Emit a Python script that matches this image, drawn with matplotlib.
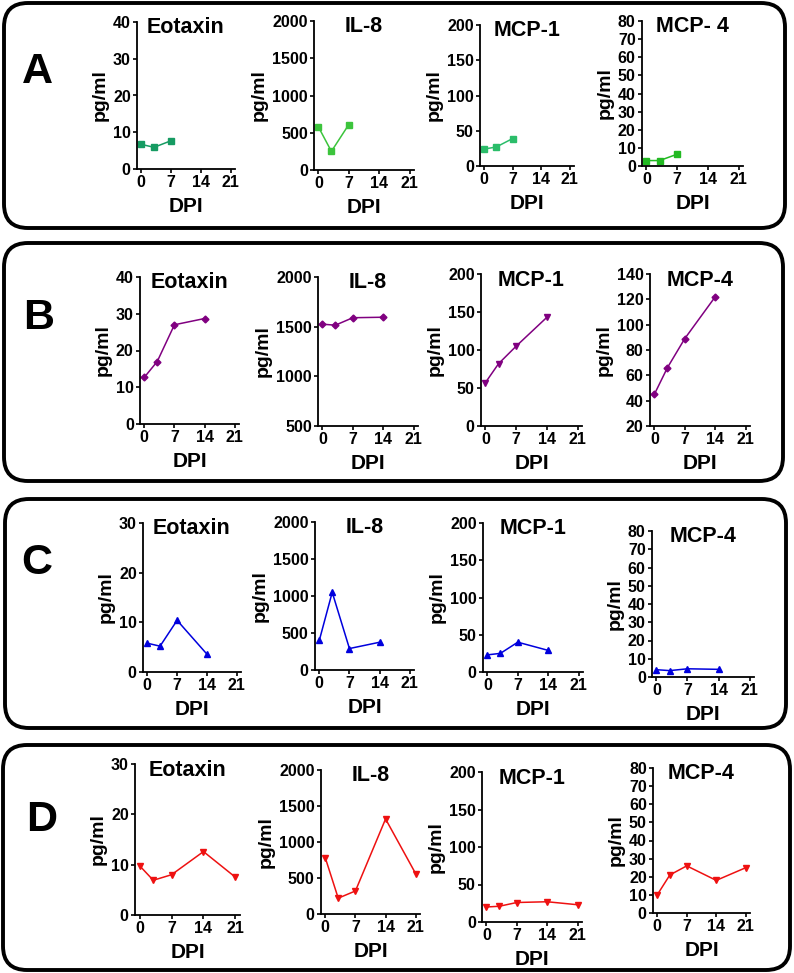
import matplotlib
matplotlib.use("Agg")
import matplotlib.pyplot as plt
from matplotlib.patches import FancyBboxPatch

plt.rcParams['font.family'] = ['Liberation Sans', 'DejaVu Sans']
plt.rcParams['font.weight'] = 'bold'
plt.rcParams['axes.labelweight'] = 'bold'

W, H = 794, 973

# ---- data (pg/ml by days post infection) ----
dpi_a = [0, 3, 7]
eotaxin_a = [6.7, 5.9, 7.7]
il8_a = [580, 250, 610]
mcp1_a = [24, 27, 39]
mcp4_a = [3, 3, 6.5]

dpi_b = [0, 3, 7, 14]
eotaxin_b = [12.7, 17, 27, 28.7]
il8_b = [1525, 1515, 1590, 1595]
mcp1_b = [57, 82, 105, 143]
mcp4_b = [45, 66, 89, 122]

dpi_c = [0, 3, 7, 14]
eotaxin_c = [5.8, 5.2, 10.4, 3.6]
il8_c = [400, 1050, 290, 375]
mcp1_c = [23, 25, 40, 29]
mcp4_c = [4, 3.5, 4.5, 4.2]

dpi_d = [0, 3, 7, 14, 21]
eotaxin_d = [9.8, 6.9, 8.0, 12.6, 7.5]
il8_d = [780, 220, 320, 1320, 560]
mcp1_d = [20, 21, 26, 27, 23]
mcp4_d = [10, 21, 26, 18, 25]

x_ticks = [0, 7, 14, 21]

# (letter, letter pos, box, x values, color, marker, panels)
# panel: (title, y values, yticks, axes px [left, right, top, bottom], colour override)
rows = [
    ("A", (37, 72), (4, 3, 785, 228), dpi_a, None, 's', [
        ("Eotaxin", eotaxin_a, range(0, 41, 10), (137, 235, 22, 169), "#169b62"),
        ("IL-8", il8_a, range(0, 2001, 500), (314, 414, 21, 170), "#3cc43c"),
        ("MCP-1", mcp1_a, range(0, 201, 50), (480, 574, 25, 166), "#2bbd6a"),
        ("MCP- 4", mcp4_a, range(0, 81, 10), (642, 743, 21, 166), "#22b922"),
    ]),
    ("B", (39, 318), (4, 243, 783, 481), dpi_b, "#800080", 'D', [
        ("Eotaxin", eotaxin_b, range(0, 41, 10), (140, 239, 277, 424), None),
        ("IL-8", il8_b, range(500, 2001, 500), (318, 418, 277, 426), None),
        ("MCP-1", mcp1_b, range(0, 201, 50), (481, 582, 274, 426), None),
        ("MCP-4", mcp4_b, range(20, 141, 20), (650, 750, 274, 426), None),
    ]),
    ("C", (37, 563), (5, 499, 786, 728), dpi_c, "#0000dd", '^', [
        ("Eotaxin", eotaxin_c, range(0, 31, 10), (143, 241, 523, 672), None),
        ("IL-8", il8_c, range(0, 2001, 500), (315, 414, 522, 670), None),
        ("MCP-1", mcp1_c, range(0, 201, 50), (483, 583, 523, 672), None),
        ("MCP-4", mcp4_c, range(0, 81, 10), (652, 754, 531, 677), None),
    ]),
    ("D", (42, 820), (3, 745, 790, 970), dpi_d, "#ee1111", 'v', [
        ("Eotaxin", eotaxin_d, range(0, 31, 10), (135, 240, 764, 915), None),
        ("IL-8", il8_d, range(0, 2001, 500), (321, 420, 770, 914), None),
        ("MCP-1", mcp1_d, range(0, 201, 50), (482, 582, 772, 922), None),
        ("MCP-4", mcp4_d, range(0, 81, 10), (653, 750, 768, 913), None),
    ]),
]

fig = plt.figure(figsize=(W / 100, H / 100), dpi=100)

# overlay in pixel coordinates for the rounded frames and panel letters
bg = fig.add_axes([0, 0, 1, 1], zorder=0)
bg.set_xlim(0, W)
bg.set_ylim(H, 0)
bg.axis('off')

for letter, lpos, box, xs, color, marker, panels in rows:
    x0, y0, x1, y1 = box
    bg.add_patch(FancyBboxPatch((x0, y0), x1 - x0, y1 - y0,
                                boxstyle="round,pad=0,rounding_size=24",
                                fill=False, lw=2.8, ec='black'))
    bg.text(lpos[0], lpos[1], letter, fontsize=31, fontweight='bold',
            ha='center', va='center')

    for title, ys, yt, (l, r, t, b), pcolor in panels:
        c = pcolor or color
        mk = marker
        ms = 4.5
        if letter == "B":
            ms = 3.5
            if title == "MCP-1":
                mk = 'v'
                ms = 4.5
        ax = fig.add_axes([l / W, 1 - b / H, (r - l) / W, (b - t) / H], zorder=1)
        ax.patch.set_alpha(0)
        ax.plot(xs, ys, color=c, lw=1.1, marker=mk, markersize=ms,
                clip_on=False)
        ax.set_xlim(-1, 22)
        ax.set_ylim(yt[0], yt[-1])
        ax.set_xticks(x_ticks)
        ax.set_yticks(list(yt))
        for s in ['top', 'right']:
            ax.spines[s].set_visible(False)
        for s in ['left', 'bottom']:
            ax.spines[s].set_linewidth(1.3)
        ax.tick_params(direction='out', length=3, width=1.2, labelsize=11.5,
                       pad=1.5)
        for lab in ax.get_xticklabels() + ax.get_yticklabels():
            lab.set_fontweight('bold')
        ax.text(0.5, 0.96, title, transform=ax.transAxes, ha='center',
                va='center', fontsize=15.5, fontweight='bold')
        ax.set_ylabel("pg/ml", fontsize=14, labelpad=3)
        ax.set_xlabel("DPI", fontsize=15, labelpad=5)

fig.savefig("out.png", dpi=100)
